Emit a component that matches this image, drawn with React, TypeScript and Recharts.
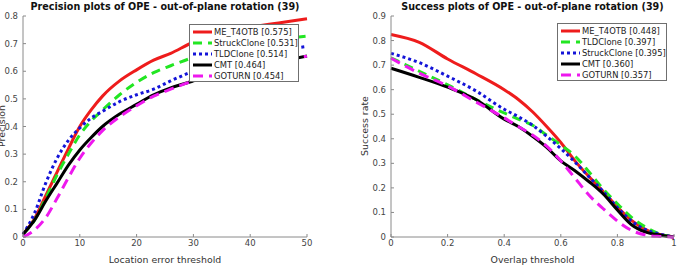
import React from 'react';
import { LineChart, Line, XAxis, YAxis } from 'recharts';

// Precision plot (location error threshold, pixels)
const precisionThresholds = [0, 2, 4, 6, 8, 10, 12, 14, 17, 20, 23, 26, 30, 35, 40, 45, 50];
const precisionMeT4otb = [0.01, 0.065, 0.15, 0.235, 0.32, 0.4, 0.46, 0.51, 0.565, 0.605, 0.64, 0.665, 0.705, 0.735, 0.76, 0.775, 0.79];
const precisionStruck = [0.01, 0.06, 0.14, 0.225, 0.3, 0.37, 0.42, 0.46, 0.515, 0.56, 0.595, 0.62, 0.65, 0.675, 0.695, 0.715, 0.727];
const precisionTld = [0.01, 0.085, 0.195, 0.285, 0.35, 0.395, 0.43, 0.455, 0.49, 0.515, 0.535, 0.565, 0.6, 0.63, 0.655, 0.675, 0.69];
const precisionCmt = [0.01, 0.06, 0.13, 0.195, 0.26, 0.315, 0.36, 0.4, 0.445, 0.48, 0.515, 0.54, 0.565, 0.59, 0.615, 0.635, 0.655];
const precisionGoturn = [0, 0.025, 0.07, 0.14, 0.215, 0.285, 0.34, 0.385, 0.435, 0.475, 0.51, 0.535, 0.565, 0.59, 0.615, 0.635, 0.655];

// Success plot (overlap threshold)
const successThresholds = [0, 0.1, 0.2, 0.3, 0.4, 0.45, 0.5, 0.55, 0.6, 0.65, 0.7, 0.75, 0.8, 0.85, 0.9, 0.95, 1];
const successMeT4otb = [0.825, 0.793, 0.725, 0.665, 0.6, 0.56, 0.51, 0.45, 0.385, 0.31, 0.245, 0.185, 0.122, 0.068, 0.03, 0.01, 0];
const successTld = [0.73, 0.675, 0.62, 0.56, 0.505, 0.48, 0.455, 0.415, 0.375, 0.33, 0.265, 0.195, 0.135, 0.08, 0.04, 0.012, 0];
const successStruck = [0.748, 0.71, 0.655, 0.595, 0.52, 0.49, 0.455, 0.41, 0.36, 0.305, 0.245, 0.185, 0.12, 0.065, 0.03, 0.012, 0];
const successCmt = [0.687, 0.65, 0.61, 0.56, 0.48, 0.45, 0.41, 0.365, 0.31, 0.27, 0.225, 0.175, 0.11, 0.05, 0.02, 0.008, 0];
const successGoturn = [0.728, 0.667, 0.615, 0.55, 0.485, 0.45, 0.415, 0.37, 0.31, 0.24, 0.17, 0.115, 0.065, 0.027, 0.008, 0.002, 0];

const precisionTicksX = [0, 10, 20, 30, 40, 50];
const precisionTicksY = [0, 0.1, 0.2, 0.3, 0.4, 0.5, 0.6, 0.7, 0.8];
const successTicksX = [0, 0.2, 0.4, 0.6, 0.8, 1];
const successTicksY = [0, 0.1, 0.2, 0.3, 0.4, 0.5, 0.6, 0.7, 0.8, 0.9];

const FONT = '"DejaVu Sans", sans-serif';
const AXIS = '#8a8a8a';
const TICK_TEXT = '#444';

const RED = { color: '#ee1c1c', dash: undefined as string | undefined };
const GREEN = { color: '#22e622', dash: '9 6' };
const BLUE = { color: '#1414d8', dash: '3 3' };
const BLACK = { color: '#000000', dash: undefined as string | undefined };
const MAGENTA = { color: '#ee18ee', dash: '10 6' };

type Series = { name: string; score: string; values: number[]; color: string; dash?: string };

const precisionSeries: Series[] = [
  { name: 'ME_T4OTB', score: '0.575', values: precisionMeT4otb, ...RED },
  { name: 'StruckClone', score: '0.531', values: precisionStruck, ...GREEN },
  { name: 'TLDClone', score: '0.514', values: precisionTld, ...BLUE },
  { name: 'CMT', score: '0.464', values: precisionCmt, ...BLACK },
  { name: 'GOTURN', score: '0.454', values: precisionGoturn, ...MAGENTA },
];

const successSeries: Series[] = [
  { name: 'ME_T4OTB', score: '0.448', values: successMeT4otb, ...RED },
  { name: 'TLDClone', score: '0.397', values: successTld, ...GREEN },
  { name: 'StruckClone', score: '0.395', values: successStruck, ...BLUE },
  { name: 'CMT', score: '0.360', values: successCmt, ...BLACK },
  { name: 'GOTURN', score: '0.357', values: successGoturn, ...MAGENTA },
];

type PanelProps = {
  left: number;
  width: number;
  yAxisWidth: number;
  rightMargin: number;
  title: string;
  xLabel: string;
  yLabel: string;
  yLabelX: number;
  thresholds: number[];
  series: Series[];
  xMax: number;
  yMax: number;
  xTicks: number[];
  yTicks: number[];
  legendLeft: number;
  legendTop: number;
};

const Legend = ({ series, left, top }: { series: Series[]; left: number; top: number }) => (
  <div
    style={{
      position: 'absolute',
      left,
      top,
      width: 110,
      height: 58,
      boxSizing: 'border-box',
      border: '1px solid #6f6f6f',
      background: '#fff',
      paddingTop: 1,
      fontFamily: FONT,
      fontSize: 8.4,
      color: '#222',
    }}
  >
    {series.map((s) => (
      <div key={s.name} style={{ display: 'flex', alignItems: 'center', height: 11.2, whiteSpace: 'nowrap' }}>
        <svg width={23} height={6} style={{ flex: 'none' }}>
          <line x1={3} x2={22} y1={3} y2={3} stroke={s.color} strokeWidth={3} strokeDasharray={s.dash} />
        </svg>
        <span style={{ marginLeft: 1 }}>{`${s.name} [${s.score}]`}</span>
      </div>
    ))}
  </div>
);

const Panel = (p: PanelProps) => {
  const rows = p.thresholds.map((t, i) => {
    const row: Record<string, number> = { x: t };
    p.series.forEach((s) => {
      row[s.name] = s.values[i];
    });
    return row;
  });
  const plotLeft = p.yAxisWidth;
  const plotRight = p.width - p.rightMargin;

  return (
    <div style={{ position: 'absolute', left: p.left, top: 0, width: p.width, height: 265 }}>
      <LineChart
        width={p.width}
        height={265}
        data={rows}
        margin={{ top: 16, right: p.rightMargin, bottom: 0, left: 0 }}
        style={{ fontFamily: FONT }}
      >
        <XAxis
          xAxisId="b"
          dataKey="x"
          type="number"
          domain={[0, p.xMax]}
          ticks={p.xTicks}
          interval={0}
          height={28}
          tickSize={-3}
          tickMargin={6}
          stroke={AXIS}
          tick={{ fill: TICK_TEXT, fontSize: 8.5 }}
          label={{ value: p.xLabel, position: 'insideBottom', offset: 2, fill: '#333', fontSize: 9.4 }}
        />
        <XAxis
          xAxisId="t"
          orientation="top"
          dataKey="x"
          type="number"
          domain={[0, p.xMax]}
          ticks={p.xTicks}
          height={0}
          tickSize={-3}
          tick={false}
          stroke={AXIS}
        />
        <YAxis
          yAxisId="l"
          type="number"
          domain={[0, p.yMax]}
          ticks={p.yTicks}
          interval={0}
          width={p.yAxisWidth}
          tickSize={-3}
          tickMargin={8}
          stroke={AXIS}
          tick={{ fill: TICK_TEXT, fontSize: 8.5 }}
        />
        <YAxis
          yAxisId="r"
          orientation="right"
          type="number"
          domain={[0, p.yMax]}
          ticks={p.yTicks}
          width={0}
          tickSize={-3}
          tick={false}
          stroke={AXIS}
        />
        {p.series.map((s) => (
          <Line
            key={s.name}
            xAxisId="b"
            yAxisId="l"
            type="monotone"
            dataKey={s.name}
            stroke={s.color}
            strokeWidth={3}
            strokeDasharray={s.dash}
            dot={false}
            isAnimationActive={false}
          />
        ))}
      </LineChart>
      <div
        style={{
          position: 'absolute',
          left: plotLeft,
          width: plotRight - plotLeft,
          top: 0,
          textAlign: 'center',
          fontFamily: FONT,
          fontWeight: 'bold',
          fontSize: 9.6,
          lineHeight: '13px',
          color: '#111',
          whiteSpace: 'nowrap',
        }}
      >
        {p.title}
      </div>
      <div
        style={{
          position: 'absolute',
          left: p.yLabelX - 60,
          top: 126 - 6,
          width: 120,
          height: 12,
          lineHeight: '12px',
          textAlign: 'center',
          transform: 'rotate(-90deg)',
          fontFamily: FONT,
          fontSize: 9.4,
          color: '#333',
          whiteSpace: 'nowrap',
        }}
      >
        {p.yLabel}
      </div>
      <Legend series={p.series} left={p.legendLeft} top={p.legendTop} />
    </div>
  );
};

export default function App() {
  return (
    <div style={{ position: 'absolute', left: 0, top: 0, width: 681, height: 265, background: '#fff', overflow: 'hidden' }}>
      <Panel
        left={0}
        width={340}
        yAxisWidth={23}
        rightMargin={33}
        title="Precision plots of OPE - out-of-plane rotation (39)"
        xLabel="Location error threshold"
        yLabel="Precision"
        yLabelX={1.5}
        thresholds={precisionThresholds}
        series={precisionSeries}
        xMax={50}
        yMax={0.8}
        xTicks={precisionTicksX}
        yTicks={precisionTicksY}
        legendLeft={189}
        legendTop={24}
      />
      <Panel
        left={340}
        width={341}
        yAxisWidth={51}
        rightMargin={7}
        title="Success plots of OPE - out-of-plane rotation (39)"
        xLabel="Overlap threshold"
        yLabel="Success rate"
        yLabelX={25}
        thresholds={successThresholds}
        series={successSeries}
        xMax={1}
        yMax={0.9}
        xTicks={successTicksX}
        yTicks={successTicksY}
        legendLeft={217}
        legendTop={23}
      />
    </div>
  );
}
